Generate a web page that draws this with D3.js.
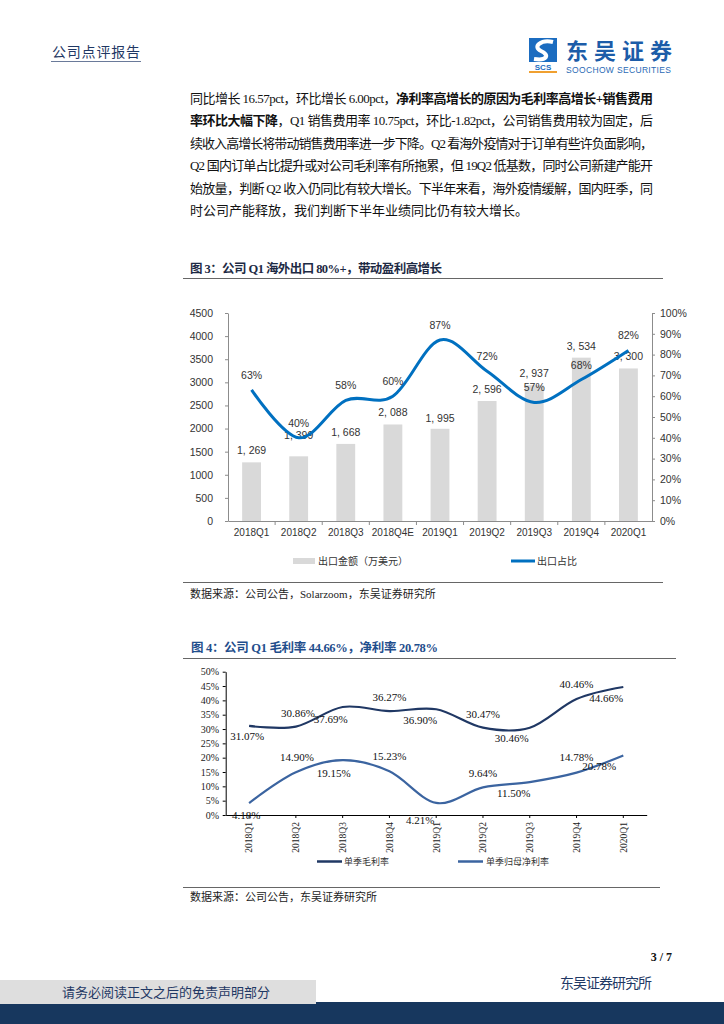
<!DOCTYPE html>
<html><head><meta charset="utf-8">
<script src="https://cdn.jsdelivr.net/npm/d3@7"></script>
<style>body{margin:0;background:#fff}svg{display:block}</style>
</head><body><svg id="c" width="724" height="1024"></svg>
<script>
// ---------- data ----------
const quarters3 = ["2018Q1","2018Q2","2018Q3","2018Q4E","2019Q1","2019Q2","2019Q3","2019Q4","2020Q1"];
const exportAmount = [1269,1399,1668,2088,1995,2596,2937,3534,3300];
const exportShare = [63,40,58,60,87,72,57,68,82];
const leftTicks = [0,500,1000,1500,2000,2500,3000,3500,4000,4500];
const rightTicks = [0,10,20,30,40,50,60,70,80,90,100];
const legend3 = ["出口金额（万美元）","出口占比"];

const quarters4 = ["2018Q1","2018Q2","2018Q3","2018Q4","2019Q1","2019Q2","2019Q3","2019Q4","2020Q1"];
const grossMargin = [31.07,30.86,37.69,36.27,36.90,30.47,30.46,40.46,44.66];
const netMargin = [4.18,14.90,19.15,15.23,4.21,9.64,11.50,14.78,20.78];
const marginTicks = [0,5,10,15,20,25,30,35,40,45,50];
const legend4 = ["单季毛利率","单季归母净利率"];

// label layout (offsets of label centre from point)
const barLabelDy = [-12,-21,-12,-12,-11,-12,-12,-12,-12];
const grossLabelOffset = [[-2,10],[2,-14],[-12,12],[0,-14],[-16,11],[0,-14],[-18,10],[0,-15],[-17,11]];
const netLabelOffset = [[-3,12],[1,-15],[-9,13],[0,-15],[-16,17],[0,-14],[-16,11],[0,-16],[-24,11]];

const bodyLines = [
  [["同比增长 16.57pct，环比增长 6.00pct，",false],["净利率高增长的原因为毛利率高增长+销售费用",true]],
  [["率环比大幅下降",true],["，Q1 销售费用率 10.75pct，环比-1.82pct，公司销售费用较为固定，后",false]],
  [["续收入高增长将带动销售费用率进一步下降。Q2 看海外疫情对于订单有些许负面影响，",false]],
  [["Q2 国内订单占比提升或对公司毛利率有所拖累，但 19Q2 低基数，同时公司新建产能开",false]],
  [["始放量，判断 Q2 收入仍同比有较大增长。下半年来看，海外疫情缓解，国内旺季，同",false]],
  [["时公司产能释放，我们判断下半年业绩同比仍有较大增长。",false]]
];

// ---------- helpers ----------
const svg = d3.select("#c");
const SERIF = "'Liberation Serif','Noto Sans CJK SC',serif";
const CJK = "'Noto Sans CJK SC',sans-serif";
const SANS = "'Liberation Sans','Noto Sans CJK SC',sans-serif";
const NAVY = "#1f3864";
function fit(sel, width){
  const node = sel.node();
  const len = node.getComputedTextLength();
  const n = node.textContent.length;
  if(n>1) sel.attr("letter-spacing", (width-len)/(n-1));
}

// ---------- header ----------
svg.append("text").attr("x",52).attr("y",57).attr("font-family",CJK).attr("font-size",14)
  .attr("fill",NAVY).text("公司点评报告").call(s=>fit(s,88));
svg.append("line").attr("x1",51).attr("x2",141).attr("y1",61.5).attr("y2",61.5).attr("stroke","#6a7a9a").attr("stroke-width",1);

// logo
const lg = svg.append("g");
lg.append("rect").attr("x",529).attr("y",38).attr("width",28).attr("height",24).attr("fill","#1b6cc0");
lg.append("path").attr("d","M553 42 C541 39,532 47,541 51 C550 55,547 61,534 59").attr("fill","none").attr("stroke","#fff").attr("stroke-width",4);
lg.append("text").attr("x",543).attr("y",70).attr("text-anchor","middle").attr("font-family",SANS).attr("font-weight","bold")
  .attr("font-size",8).attr("fill","#1b6cc0").text("SCS");
lg.append("rect").attr("x",529).attr("y",71).attr("width",28).attr("height",2).attr("fill","#f0a030");
lg.append("text").attr("x",566).attr("y",59).attr("font-family",CJK).attr("font-weight","bold").attr("font-size",22)
  .attr("fill","#1c5ca8").text("东吴证券").call(s=>fit(s,106));
lg.append("text").attr("x",566).attr("y",72.5).attr("font-family",SANS).attr("font-size",8.5)
  .attr("fill","#2a6ab5").text("SOOCHOW SECURITIES").call(s=>fit(s,105));

// ---------- body text ----------
const bodyY = [98,120,143,165,188,210];
bodyLines.forEach((parts,i)=>{
  const t = svg.append("text").attr("x",190).attr("y",bodyY[i]+4.5).attr("font-family",SERIF)
    .attr("font-size",13).attr("fill","#111");
  parts.forEach(p=>t.append("tspan").attr("font-weight",p[1]?"bold":"normal").text(p[0]));
  if(i<bodyLines.length-1) fit(t,463);
});

// ---------- figure 3 ----------
svg.append("text").attr("x",190).attr("y",272.5).attr("font-family",SERIF).attr("font-weight","bold")
  .attr("font-size",12.5).attr("fill","#1d2a44").text("图 3：公司 Q1 海外出口 80%+，带动盈利高增长").call(s=>fit(s,252));
svg.append("line").attr("x1",183).attr("x2",663).attr("y1",278.5).attr("y2",278.5).attr("stroke","#666");

const x3 = d3.scaleBand().domain(quarters3).range([228,652]);
const yL = d3.scaleLinear().domain([0,4500]).range([521,313]);
const yR = d3.scaleLinear().domain([0,100]).range([521,313]);
const g3 = svg.append("g");
const bw = x3.bandwidth()*0.4;
g3.selectAll("rect.bar").data(exportAmount).join("rect").attr("class","bar")
  .attr("x",(d,i)=>x3(quarters3[i])+x3.bandwidth()/2-bw/2).attr("width",bw)
  .attr("y",d=>yL(d)).attr("height",d=>yL(0)-yL(d)).attr("fill","#d9d9d9");

const axL = g3.append("g").attr("transform","translate(228,0)")
  .call(d3.axisLeft(yL).tickValues(leftTicks).tickSize(3).tickSizeOuter(0).tickPadding(12).tickFormat(d=>d));
const axR = g3.append("g").attr("transform","translate(652,0)")
  .call(d3.axisRight(yR).tickValues(rightTicks).tickSize(3).tickSizeOuter(0).tickPadding(5).tickFormat(d=>d+"%"));
[axL,axR].forEach(a=>{
  a.selectAll("path,line").attr("stroke","#8c8c8c");
  a.selectAll("text").attr("font-family",SANS).attr("font-size",10.5).attr("fill","#333");
});
const axB = g3.append("g").attr("transform","translate(0,521)")
  .call(d3.axisBottom(x3).tickSize(0).tickSizeOuter(0).tickPadding(8));
axB.select("path").attr("stroke","#8c8c8c");
axB.selectAll("text").attr("font-family",SANS).attr("font-size",10).attr("fill","#333");
g3.selectAll("line.sep").data(quarters3.slice(1)).join("line").attr("class","sep")
  .attr("x1",d=>x3(d)).attr("x2",d=>x3(d)).attr("y1",521).attr("y2",525).attr("stroke","#8c8c8c");

const fmtAmt = v=>d3.format(",")(v).replace(",",", ");
g3.selectAll("text.bl").data(exportAmount).join("text").attr("class","bl")
  .attr("x",(d,i)=>x3(quarters3[i])+x3.bandwidth()/2).attr("y",(d,i)=>yL(d)+barLabelDy[i]+4)
  .attr("text-anchor","middle").attr("font-family",SANS).attr("font-size",10.5).attr("fill","#333").text(fmtAmt);

const line3 = d3.line().x((d,i)=>x3(quarters3[i])+x3.bandwidth()/2).y(d=>yR(d)).curve(d3.curveCatmullRom.alpha(0));
g3.append("path").datum(exportShare).attr("d",line3).attr("fill","none").attr("stroke","#0070c0").attr("stroke-width",3);
g3.selectAll("text.ll").data(exportShare).join("text").attr("class","ll")
  .attr("x",(d,i)=>x3(quarters3[i])+x3.bandwidth()/2).attr("y",d=>yR(d)-15+4)
  .attr("text-anchor","middle").attr("font-family",SANS).attr("font-size",10.5).attr("fill","#333").text(d=>d+"%");

// legend 3
svg.append("rect").attr("x",293).attr("y",558).attr("width",22).attr("height",6).attr("fill","#d9d9d9");
svg.append("text").attr("x",318).attr("y",565).attr("font-family",CJK).attr("font-size",10).attr("fill","#333").text(legend3[0]);
svg.append("line").attr("x1",511).attr("x2",535).attr("y1",561).attr("y2",561).attr("stroke","#0070c0").attr("stroke-width",3);
svg.append("text").attr("x",537).attr("y",565).attr("font-family",CJK).attr("font-size",10).attr("fill","#333").text(legend3[1]);

svg.append("line").attr("x1",183).attr("x2",663).attr("y1",582.5).attr("y2",582.5).attr("stroke","#666");
svg.append("text").attr("x",190).attr("y",598).attr("font-family",SERIF).attr("font-size",11).attr("fill","#222")
  .text("数据来源：公司公告，Solarzoom，东吴证券研究所");

// ---------- figure 4 ----------
svg.append("text").attr("x",191).attr("y",652).attr("font-family",SERIF).attr("font-weight","bold")
  .attr("font-size",12.5).attr("fill","#1f4e8c").text("图 4：公司 Q1 毛利率 44.66%，净利率 20.78%").call(s=>fit(s,247));
svg.append("line").attr("x1",183).attr("x2",676).attr("y1",658.5).attr("y2",658.5).attr("stroke","#666");

const x4 = d3.scaleBand().domain(quarters4).range([225.7,646.7]);
const cx4 = d=>x4(d)+x4.bandwidth()/2;
const y4 = d3.scaleLinear().domain([0,50]).range([815,671.7]);
const g4 = svg.append("g");
const axL4 = g4.append("g").attr("transform","translate(225.7,0)")
  .call(d3.axisLeft(y4).tickValues(marginTicks).tickSize(3).tickSizeOuter(0).tickPadding(3.5).tickFormat(d=>d+"%"));
axL4.selectAll("path,line").attr("stroke","#000");
axL4.selectAll("text").attr("font-family",SERIF).attr("font-size",10).attr("fill","#222");
const axB4 = g4.append("g").attr("transform","translate(0,815)")
  .call(d3.axisBottom(x4).tickSize(3).tickSizeOuter(0).tickFormat(""));
axB4.selectAll("path,line").attr("stroke","#000");
g4.selectAll("text.xl").data(quarters4).join("text").attr("class","xl")
  .attr("transform",d=>`translate(${cx4(d)},822) rotate(-90)`).attr("dy","0.35em")
  .attr("text-anchor","end").attr("font-family",SERIF).attr("font-size",9.5).attr("fill","#222").text(d=>d);

const line4 = d3.line().x((d,i)=>cx4(quarters4[i])).y(d=>y4(d)).curve(d3.curveCatmullRom.alpha(0));
const series4 = [[grossMargin,"#203864",grossLabelOffset],[netMargin,"#3b64a0",netLabelOffset]];
series4.forEach(([vals,col,off])=>{
  g4.append("path").datum(vals).attr("d",line4).attr("fill","none").attr("stroke",col).attr("stroke-width",2.2);
});
series4.forEach(([vals,col,off])=>{
  g4.append("g").selectAll("text").data(vals).join("text")
    .attr("x",(d,i)=>cx4(quarters4[i])+off[i][0]).attr("y",(d,i)=>y4(d)+off[i][1]+4)
    .attr("text-anchor","middle").attr("font-family",SERIF).attr("font-size",11).attr("fill","#111")
    .text(d=>d.toFixed(2)+"%");
});

// legend 4
svg.append("line").attr("x1",317).attr("x2",342).attr("y1",861.5).attr("y2",861.5).attr("stroke","#203864").attr("stroke-width",2.5);
svg.append("text").attr("x",344).attr("y",865).attr("font-family",CJK).attr("font-size",9).attr("fill","#333").text(legend4[0]);
svg.append("line").attr("x1",458).attr("x2",483).attr("y1",861.5).attr("y2",861.5).attr("stroke","#3b64a0").attr("stroke-width",2.5);
svg.append("text").attr("x",486).attr("y",865).attr("font-family",CJK).attr("font-size",9).attr("fill","#333").text(legend4[1]);

svg.append("line").attr("x1",183).attr("x2",660).attr("y1",887.5).attr("y2",887.5).attr("stroke","#666");
svg.append("text").attr("x",190).attr("y",901).attr("font-family",SERIF).attr("font-size",11).attr("fill","#222")
  .text("数据来源：公司公告，东吴证券研究所");

// ---------- footer ----------
svg.append("text").attr("x",672).attr("y",961).attr("text-anchor","end").attr("font-family",SERIF)
  .attr("font-weight","bold").attr("font-size",12).attr("fill","#111").text("3 / 7");
svg.append("rect").attr("x",0).attr("y",1002).attr("width",724).attr("height",22).attr("fill","#17375e");
svg.append("rect").attr("x",0).attr("y",980).attr("width",316).attr("height",24).attr("fill","#dedede");
svg.append("text").attr("x",62).attr("y",997).attr("font-family",CJK).attr("font-size",13).attr("fill",NAVY)
  .text("请务必阅读正文之后的免责声明部分").call(s=>fit(s,208));
svg.append("text").attr("x",560).attr("y",988).attr("font-family",CJK).attr("font-size",14).attr("fill",NAVY)
  .text("东吴证券研究所").call(s=>fit(s,92));
</script></body></html>
